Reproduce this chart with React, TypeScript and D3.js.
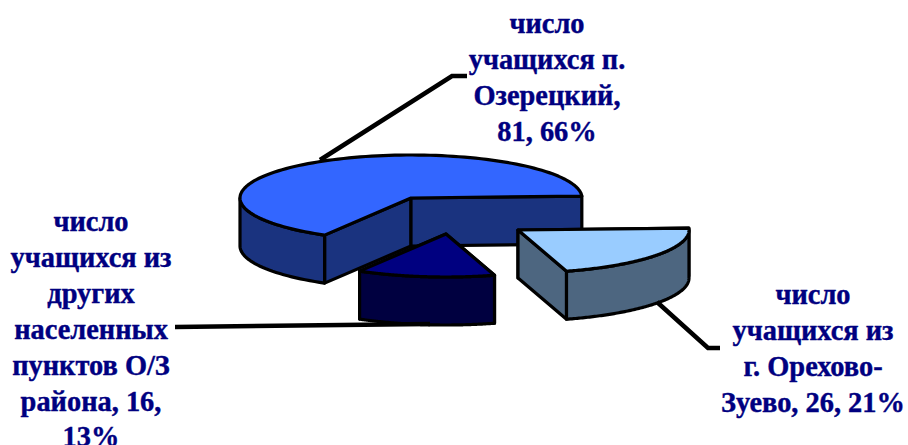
import React from "react";
import * as d3 from "d3";

const categories = ["число учащихся из г. Орехово-Зуево", "число учащихся из других населенных пунктов О/З района", "число учащихся п. Озерецкий"];
const values = [26, 16, 81];
const topColors = ["#99CCFF", "#000080", "#3366FF"];
const sideColors = ["#4D6680", "#000040", "#1A337F"];
const explodeX = [107, 35, 0];
const explodeY = [32, 36, 0];
const labelLines = [
  ["число", "учащихся из", "г. Орехово-", "Зуево, 26, 21%"],
  ["число", "учащихся из", "других", "населенных", "пунктов О/З", "района, 16,", "13%"],
  ["число", "учащихся п.", "Озерецкий,", "81, 66%"],
];
const labelX = [813, 91, 547];
const labelY = [304, 231, 33];
const leaders = [
  [[657, 302], [708, 348], [720, 348]],
  [[175, 327], [430, 324]],
  [[320, 160], [452, 76], [467, 76]],
];

const W = 908, H = 445;
const cx = 411, cy = 198, rx = 171, ry = 43, depth = 48;
const xs = d3.scaleLinear().domain([-1, 1]).range([cx - rx, cx + rx]);
const ys = d3.scaleLinear().domain([-1, 1]).range([cy - ry, cy + ry]);
const line = d3.line<[number, number]>();

export default function App() {
  const rot = -0.045;
  const pie = d3.pie<number>().sort(null).startAngle(Math.PI / 2 + rot).endAngle(Math.PI * 2.5 + rot);
  const arcs = pie(values);
  const order = [2, 0, 1];
  return (
    <svg width={W} height={H} style={{ position: "absolute", left: 0, top: 0, background: "#fff" }}>
      {order.map((i) => {
        const a = arcs[i];
        const dx = explodeX[i], dy = explodeY[i];
        const px = (t: number) => xs(Math.sin(t)) + dx;
        const py = (t: number) => ys(-Math.cos(t)) + dy;
        const c: [number, number] = [xs(0) + dx, ys(0) + dy];
        const s = a.startAngle, e = a.endAngle;
        const samples = d3.range(0, 121).map((k) => s + ((e - s) * k) / 120);
        const rim = samples.map((t) => [px(t), py(t)] as [number, number]);
        const top = line([c, ...rim]) + "Z";
        const front = samples.filter((t) => Math.sin(t - Math.PI / 2) > 0);
        const wall = front.length
          ? line([
              ...front.map((t) => [px(t), py(t)] as [number, number]),
              ...front.slice().reverse().map((t) => [px(t), py(t) + depth] as [number, number]),
            ]) + "Z"
          : "";
        const cutWall = (t: number) =>
          line([c, [px(t), py(t)], [px(t), py(t) + depth], [c[0], c[1] + depth]]) + "Z";
        return (
          <g key={categories[i]} stroke="#000" strokeWidth={3.2} strokeLinejoin="round" fill={sideColors[i]}>
            <path d={cutWall(s)} />
            <path d={cutWall(e)} />
            {wall && <path d={wall} />}
            <path d={top} fill={topColors[i]} />
          </g>
        );
      })}
      {leaders.map((pts, i) => (
        <path key={i} d={line(pts as [number, number][]) || ""} fill="none" stroke="#000" strokeWidth={4.5} />
      ))}
      {labelLines.map((ls, i) => (
        <text key={i} textAnchor="middle" fontFamily="'Liberation Serif', serif" fontWeight="bold" fontSize={28.4} fill="#000080" stroke="#000080" strokeWidth={0.4}>
          {ls.map((t, j) => (
            <tspan key={j} x={labelX[i]} y={labelY[i] + j * 35.9}>{t}</tspan>
          ))}
        </text>
      ))}
    </svg>
  );
}
